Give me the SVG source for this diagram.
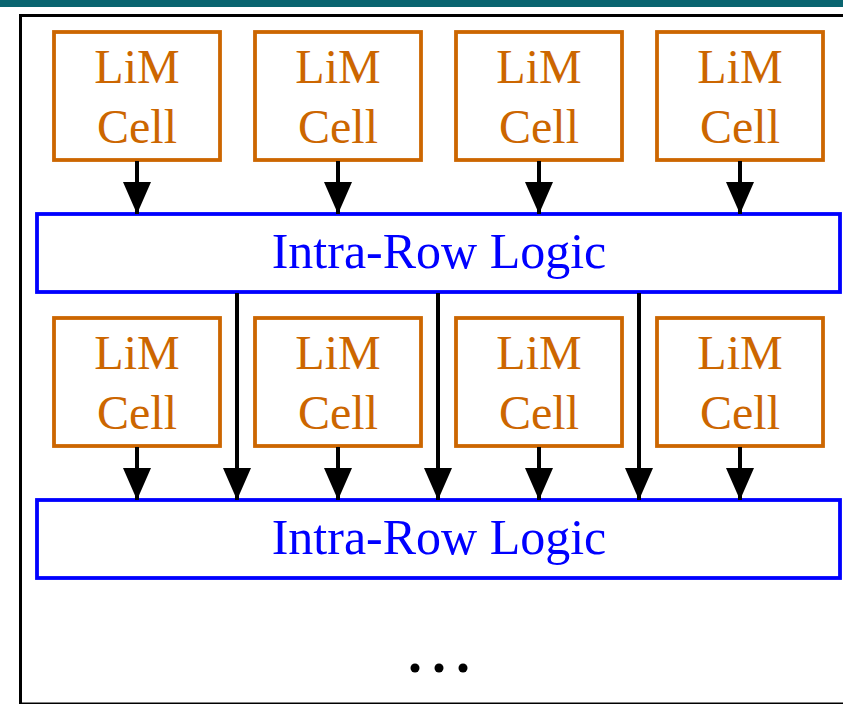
<svg xmlns="http://www.w3.org/2000/svg" width="843" height="704" viewBox="0 0 843 704">
  <style>
    .cell rect { fill: #ffffff; stroke: #cc6600; stroke-width: 3.8; }
    .cell text { fill: #cc6600; font-family: "Liberation Serif", "DejaVu Serif", serif; font-size: 48px; text-anchor: middle; }
    .logic rect { fill: #ffffff; stroke: #0000ff; stroke-width: 3.8; }
    .logic text { fill: #0000ff; font-family: "Liberation Serif", "DejaVu Serif", serif; font-size: 50px; text-anchor: middle; }
    .conn line { stroke: #000000; stroke-width: 4; }
  </style>
  <defs>
    <marker id="head" markerUnits="userSpaceOnUse" markerWidth="34" markerHeight="30" refX="32" refY="14" orient="auto">
      <path d="M0,0 L32,14 L0,28 Z" fill="#000000"/>
    </marker>
  </defs>

  <!-- header band and frame -->
  <rect x="0" y="0" width="843" height="7" fill="#0a6570"/>
  <rect x="20.5" y="15.5" width="840" height="688.5" fill="#ffffff" stroke="#000000" stroke-width="3"/>

  <!-- first row of cells -->
  <g id="cell-r1-c1" class="cell"><rect x="54" y="32" width="166" height="128"/><text x="137" y="83">LiM</text><text x="137" y="143">Cell</text></g>
  <g id="cell-r1-c2" class="cell"><rect x="255" y="32" width="166" height="128"/><text x="338" y="83">LiM</text><text x="338" y="143">Cell</text></g>
  <g id="cell-r1-c3" class="cell"><rect x="456" y="32" width="166" height="128"/><text x="539" y="83">LiM</text><text x="539" y="143">Cell</text></g>
  <g id="cell-r1-c4" class="cell"><rect x="657" y="32" width="166" height="128"/><text x="740" y="83">LiM</text><text x="740" y="143">Cell</text></g>

  <g id="logic-1" class="logic"><rect x="37" y="214" width="803" height="78"/><text x="439" y="268">Intra-Row Logic</text></g>

  <!-- second row of cells -->
  <g id="cell-r2-c1" class="cell"><rect x="54" y="318" width="166" height="128"/><text x="137" y="369">LiM</text><text x="137" y="429">Cell</text></g>
  <g id="cell-r2-c2" class="cell"><rect x="255" y="318" width="166" height="128"/><text x="338" y="369">LiM</text><text x="338" y="429">Cell</text></g>
  <g id="cell-r2-c3" class="cell"><rect x="456" y="318" width="166" height="128"/><text x="539" y="369">LiM</text><text x="539" y="429">Cell</text></g>
  <g id="cell-r2-c4" class="cell"><rect x="657" y="318" width="166" height="128"/><text x="740" y="369">LiM</text><text x="740" y="429">Cell</text></g>

  <g id="logic-2" class="logic"><rect x="37" y="500" width="803" height="78"/><text x="439" y="554">Intra-Row Logic</text></g>

  <!-- connectors -->
  <g id="connectors" class="conn">
    <line x1="137" y1="161" x2="137" y2="214" marker-end="url(#head)"/>
    <line x1="338" y1="161" x2="338" y2="214" marker-end="url(#head)"/>
    <line x1="539" y1="161" x2="539" y2="214" marker-end="url(#head)"/>
    <line x1="740" y1="161" x2="740" y2="214" marker-end="url(#head)"/>

    <line x1="137" y1="447" x2="137" y2="500" marker-end="url(#head)"/>
    <line x1="338" y1="447" x2="338" y2="500" marker-end="url(#head)"/>
    <line x1="539" y1="447" x2="539" y2="500" marker-end="url(#head)"/>
    <line x1="740" y1="447" x2="740" y2="500" marker-end="url(#head)"/>

    <line x1="237" y1="293" x2="237" y2="500" marker-end="url(#head)"/>
    <line x1="438" y1="293" x2="438" y2="500" marker-end="url(#head)"/>
    <line x1="639" y1="293" x2="639" y2="500" marker-end="url(#head)"/>
  </g>

  <!-- continuation dots -->
  <circle cx="415" cy="668" r="4.5" fill="#000000"/>
  <circle cx="439" cy="668" r="4.5" fill="#000000"/>
  <circle cx="463" cy="668" r="4.5" fill="#000000"/>
</svg>
